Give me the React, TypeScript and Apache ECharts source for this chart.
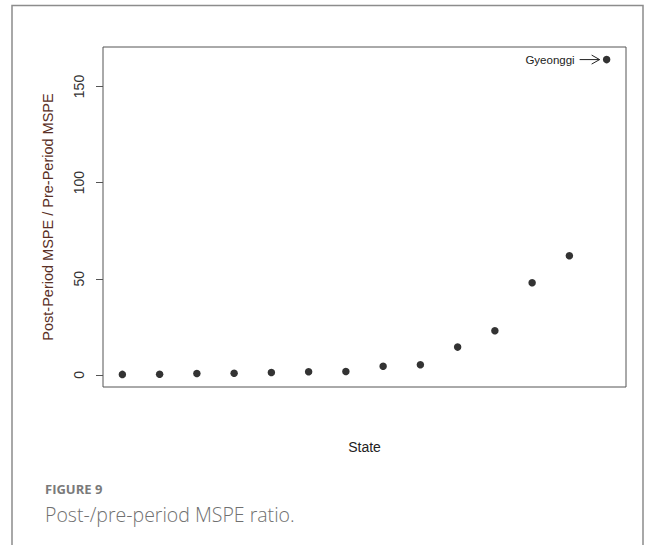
import React, { useEffect, useRef } from "react";
import * as echarts from "echarts";

// ---- data ----
const states = ["S1", "S2", "S3", "S4", "S5", "S6", "S7", "S8", "S9", "S10", "S11", "S12", "S13", "Gyeonggi"];
const ratios = [0.3, 0.35, 0.8, 0.9, 1.3, 1.7, 1.8, 4.5, 5.3, 14.5, 23, 48, 62, 164];
const yTicks = [0, 50, 100, 150];
const highlightName = "Gyeonggi";
const yTitle = "Post-Period MSPE / Pre-Period MSPE";
const xTitle = "State";
const figureLabel = "FIGURE 9";
const caption = "Post-/pre-period MSPE ratio.";

const RFONT = "'Liberation Sans', Arial, sans-serif";

export default function App() {
  const ref = useRef<HTMLDivElement>(null);

  useEffect(() => {
    if (!ref.current) return;
    const chart = echarts.init(ref.current, undefined, { renderer: "svg" });

    const n = ratios.length;
    const xMin = 1 - 0.04 * (n - 1);
    const xMax = n + 0.04 * (n - 1);
    const lo = Math.min(...ratios);
    const hi = Math.max(...ratios);
    const yMin = lo - 0.04 * (hi - lo);
    const yMax = hi + 0.04 * (hi - lo);
    const points = ratios.map((v, i) => [i + 1, v]);

    chart.setOption({
      animation: false,
      backgroundColor: "#ffffff",
      grid: {
        left: 103,
        right: 30,
        top: 47,
        bottom: 158,
        show: true,
        borderColor: "#555555",
        borderWidth: 1,
        backgroundColor: "transparent",
      },
      xAxis: {
        type: "value",
        min: xMin,
        max: xMax,
        axisLine: { show: false },
        axisTick: { show: false },
        axisLabel: { show: false },
        splitLine: { show: false },
        name: xTitle,
        nameLocation: "middle",
        nameGap: 53,
        nameTextStyle: { fontFamily: RFONT, fontSize: 14, color: "#222222" },
      },
      yAxis: {
        type: "value",
        min: yMin,
        max: yMax,
        axisLine: { show: false },
        splitLine: { show: false },
        axisTick: {
          show: true,
          length: 7,
          customValues: yTicks,
          lineStyle: { color: "#555555", width: 1 },
        },
        axisLabel: {
          show: true,
          customValues: yTicks,
          rotate: 90,
          margin: 17,
          fontFamily: RFONT,
          fontSize: 14,
          color: "#333333",
        },
        name: yTitle,
        nameLocation: "middle",
        nameRotate: 90,
        nameGap: 48,
        nameTextStyle: { fontFamily: RFONT, fontSize: 14.5, color: "#5a2f25" },
      },
      series: [
        {
          type: "scatter",
          data: points,
          symbol: "circle",
          symbolSize: 7.5,
          itemStyle: { color: "#000000" },
          silent: true,
        },
      ],
    });

    const hiIdx = states.indexOf(highlightName);
    const p = chart.convertToPixel({ seriesIndex: 0 }, [hiIdx + 1, ratios[hiIdx]]) as number[];
    const ax = p[0];
    const ay = p[1];

    chart.setOption({
      graphic: [
        {
          type: "rect",
          shape: { x: 12, y: 5.5, width: 631, height: 560 },
          style: { fill: "none", stroke: "#8c8c8c", lineWidth: 1.5 },
          silent: true,
        },
        {
          type: "text",
          x: ax - 32,
          y: ay,
          style: {
            text: highlightName,
            fill: "#222222",
            font: `11.5px ${RFONT}`,
            align: "right",
            verticalAlign: "middle",
          },
        },
        {
          type: "polyline",
          shape: { points: [[ax - 27, ay], [ax - 7, ay]] },
          style: { stroke: "#222222", lineWidth: 1, fill: "none" },
        },
        {
          type: "polyline",
          shape: { points: [[ax - 15, ay - 4.5], [ax - 7, ay], [ax - 15, ay + 4.5]] },
          style: { stroke: "#222222", lineWidth: 1, fill: "none" },
        },
        {
          type: "text",
          x: 45,
          y: 489,
          style: {
            text: figureLabel,
            fill: "#7a7a7a",
            font: `bold 13px 'Open Sans', sans-serif`,
            verticalAlign: "middle",
          },
        },
        {
          type: "text",
          x: 45,
          y: 514,
          style: {
            text: caption,
            fill: "#707070",
            font: `300 19.5px 'Open Sans', sans-serif`,
            verticalAlign: "middle",
          },
        },
      ],
    });

    return () => chart.dispose();
  }, []);

  return (
    <div
      ref={ref}
      style={{ position: "absolute", left: 0, top: 0, width: 656, height: 545, background: "#fff" }}
    />
  );
}
